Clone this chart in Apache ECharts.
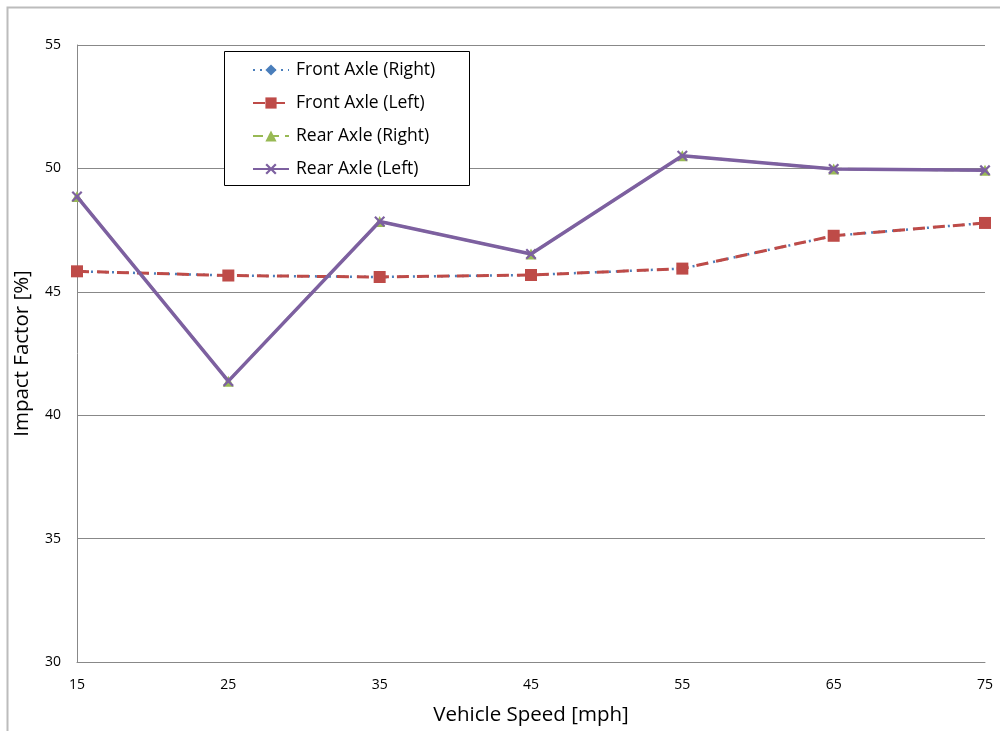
<!DOCTYPE html>
<html>
<head>
<meta charset="utf-8">
<script src="https://cdn.jsdelivr.net/npm/echarts@6/dist/echarts.min.js"></script>
<style>html,body{margin:0;padding:0;background:#fff}#c{width:1000px;height:731px}</style>
</head>
<body>
<div id="c"></div>
<script>
const speeds = [15, 25, 35, 45, 55, 65, 75];
const frontRight = [45.83, 45.66, 45.60, 45.68, 45.94, 47.27, 47.79];
const frontLeft  = [45.83, 45.66, 45.60, 45.68, 45.94, 47.27, 47.79];
const rearRight  = [48.86, 41.38, 47.85, 46.53, 50.51, 49.98, 49.92];
const rearLeft   = [48.86, 41.38, 47.85, 46.53, 50.51, 49.98, 49.92];
const seriesNames = ['Front Axle (Right)', 'Front Axle (Left)', 'Rear Axle (Right)', 'Rear Axle (Left)'];

const pairs = arr => speeds.map((s, i) => [s, arr[i]]);
const xPath = 'path://M0,1.4L1.4,0L5,3.6L8.6,0L10,1.4L6.4,5L10,8.6L8.6,10L5,6.4L1.4,10L0,8.6L3.6,5Z';
const font = '"Open Sans", "Liberation Sans", sans-serif';

const chart = echarts.init(document.getElementById('c'), null, {renderer: 'canvas'});
chart.setOption({
  animation: false,
  backgroundColor: '#fff',
  grid: {left: 77, right: 15, top: 45, bottom: 68, containLabel: false},
  graphic: [
    {type: 'rect', shape: {x: 7.5, y: 7.5, width: 1100, height: 800}, style: {fill: 'none', stroke: '#bcbcbc', lineWidth: 2}, z: 0},
    {type: 'rect', shape: {x: 224.5, y: 51.5, width: 245, height: 134}, style: {fill: '#fff', stroke: '#000', lineWidth: 1}, z: 5}
  ],
  legend: {
    data: seriesNames,
    orient: 'vertical',
    left: 247, top: 54,
    itemWidth: 36, itemHeight: 14, itemGap: 11,
    textStyle: {fontFamily: font, fontSize: 17.5, color: '#000', lineHeight: 22, padding: [0, 0, 0, 2]},
    z: 10
  },
  xAxis: {
    type: 'value', min: 15, max: 75, interval: 10,
    name: 'Vehicle Speed [mph]', nameLocation: 'middle', nameGap: 43,
    nameTextStyle: {fontFamily: font, fontSize: 20.5, color: '#000'},
    axisLine: {show: true, lineStyle: {color: '#888', width: 1}},
    axisTick: {show: false},
    axisLabel: {fontFamily: font, fontSize: 14, color: '#000', margin: 16},
    splitLine: {show: false}
  },
  yAxis: {
    type: 'value', min: 30, max: 55, interval: 5,
    name: 'Impact Factor [%]', nameLocation: 'middle', nameGap: 44,
    nameTextStyle: {fontFamily: font, fontSize: 20.5, color: '#000'},
    axisLine: {show: true, lineStyle: {color: '#888', width: 1}},
    axisTick: {show: false},
    axisLabel: {fontFamily: font, fontSize: 14, color: '#000', margin: 16},
    splitLine: {show: true, lineStyle: {color: '#888', width: 1}}
  },
  series: [
    {name: seriesNames[0], type: 'line', data: pairs(frontRight), symbol: 'diamond', symbolSize: 10,
     lineStyle: {color: '#4a7ebb', width: 2.5, type: [2, 5]}, itemStyle: {color: '#4a7ebb'}, z: 2},
    {name: seriesNames[1], type: 'line', data: pairs(frontLeft), symbol: 'rect', symbolSize: 12,
     lineStyle: {color: '#be4b48', width: 3, type: [12, 8]}, itemStyle: {color: '#be4b48'}, z: 3},
    {name: seriesNames[2], type: 'line', data: pairs(rearRight), symbol: 'triangle', symbolSize: 11,
     lineStyle: {color: '#98b954', width: 2.5, type: [10, 6]}, itemStyle: {color: '#98b954'}, z: 4},
    {name: seriesNames[3], type: 'line', data: pairs(rearLeft), symbol: xPath, symbolSize: 11,
     lineStyle: {color: '#7d60a0', width: 3.5}, itemStyle: {color: '#7d60a0'}, z: 5}
  ]
});
</script>
</body>
</html>
